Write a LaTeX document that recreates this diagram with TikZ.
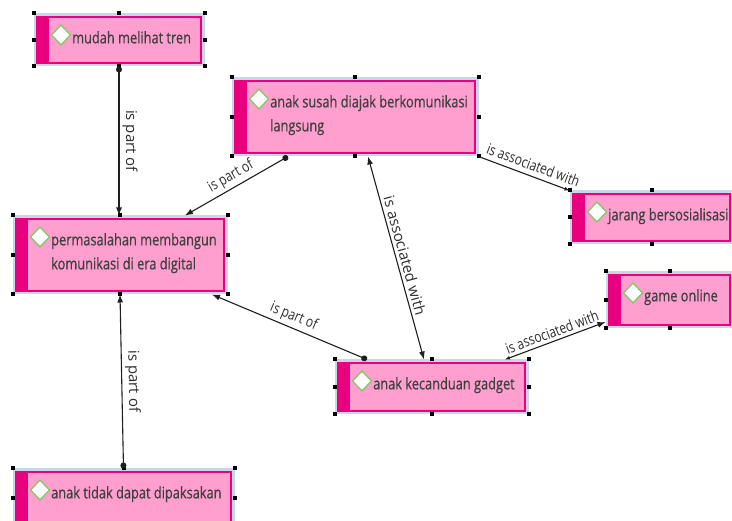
\documentclass[tikz,border=0pt]{standalone}
\usepackage{fontspec}
\setmainfont{Open Sans}[FakeStretch=0.8, FakeBold=0.6]
\newfontfamily\relfont{Open Sans}[FakeStretch=0.8]
\newfontfamily\relvfont{Open Sans}
\usetikzlibrary{arrows.meta}

\definecolor{cpink}{HTML}{FF9FD0}
\definecolor{cmag}{HTML}{E8007F}
\definecolor{cframe}{HTML}{C9D6E8}
\definecolor{cgreen}{HTML}{8CC56E}
\definecolor{ctxt}{HTML}{404040}
\definecolor{clbl}{HTML}{2E2E2E}
\definecolor{cline}{HTML}{1E1E1E}

\tikzset{
	concept/.style={rectangle, fill=cpink, draw=cmag, line width=1.2pt,
		preaction={draw=cframe, line width=7pt},
		outer sep=3.5pt, inner sep=0pt,
		path picture={
			\fill[cmag] (path picture bounding box.north west) rectangle ([xshift=12pt]path picture bounding box.south west);
			\filldraw[draw=cgreen, fill=white, line width=1.4pt] ([xshift=24pt,yshift=-18pt]path picture bounding box.north west)
				+(0,10pt) -- +(9.5pt,0) -- +(0,-10pt) -- +(-9.5pt,0) -- cycle;
		}},
	ctext/.style={anchor=north west, inner sep=0pt, xshift=38.5pt, yshift=-17.5pt,
		align=left, text=ctxt, font=\fontsize{16}{24}\selectfont},
	rel/.style={draw=cline, line width=1.1pt},
	dotarr/.style={arrows={Circle[length=6pt]-Latex[length=8pt,width=6pt]}},
	rellbl/.style={font=\relfont\fontsize{15}{17}\selectfont, text=clbl, inner sep=2pt},
	rellblv/.style={font=\relvfont\fontsize{15}{17}\selectfont, text=clbl, inner sep=2pt}
}

\newcommand{\handles}[1]{%
	\foreach \a in {north west,north,north east,east,south east,south,south west,west}
		{\fill ([shift={(-2pt,-2pt)}]#1.\a) rectangle ++(4pt,4pt);}}

\begin{document}
\begin{tikzpicture}[x=1pt,y=-1pt]
	\useasboundingbox (0,0) rectangle (732,521);

	% concepts
	\node[concept, minimum width=164pt, minimum height=46pt,
		label={[ctext]north west:mudah melihat tren}] (tren) at (119,40) {};
	\node[concept, minimum width=208pt, minimum height=72pt,
		label={[ctext]north west:{permasalahan membangun\\komunikasi di era digital}}] (masalah) at (120,255) {};
	\node[concept, minimum width=240pt, minimum height=72pt,
		label={[ctext]north west:{anak susah diajak berkomunikasi\\langsung}}] (susah) at (355,117) {};
	\node[concept, minimum width=157pt, minimum height=47pt,
		label={[ctext]north west:jarang bersosialisasi}] (jarang) at (651.5,217.5) {};
	\node[concept, minimum width=121pt, minimum height=50pt,
		label={[ctext]north west:game online}] (game) at (669.5,300) {};
	\node[concept, minimum width=187pt, minimum height=48pt,
		label={[ctext]north west:anak kecanduan gadget}] (gadget) at (431.5,387) {};
	\node[concept, minimum width=215pt, minimum height=52pt,
		label={[ctext]north west:anak tidak dapat dipaksakan}] (tidak) at (123.5,498) {};

	\foreach \n in {tren,masalah,susah,jarang,game,gadget,tidak}
		{\handles{\n}}

	% links
	\draw[rel, dotarr] (tren.south) -- (tren.south |- masalah.north)
		node[midway, sloped, above=1pt, rellblv] {is part of};
	\draw[rel, arrows={Latex[length=8pt,width=6pt]-Circle[length=6pt]}] (masalah.south) -- (tidak.north)
		node[midway, sloped, above=1pt, rellblv] {is part of};
	\draw[rel, dotarr] ([xshift=-67pt]susah.south) -- ([xshift=65pt]masalah.north)
		node[midway, sloped, above=1pt, rellbl] {is part of};
	\draw[rel, arrows={-Latex[length=5pt,width=4pt]}] (susah.south east) -- (jarang.north west)
		node[pos=0.56, sloped, above=3pt, rellbl] {is associated with};
	\draw[rel, arrows={Latex[length=8pt,width=6pt]-Latex[length=8pt,width=6pt]}] ([xshift=13pt]susah.south) -- ([xshift=-7.5pt]gadget.north)
		node[midway, sloped, above=1pt, rellblv] {is associated with};
	\draw[rel, dotarr] ([xshift=-64.5pt]gadget.north) -- ([xshift=92pt]masalah.south)
		node[midway, sloped, above=1pt, rellbl] {is part of};
	\draw[rel, arrows={Latex[length=5pt,width=4pt]-Latex[length=8pt,width=6pt]}] ([xshift=73.5pt]gadget.north) -- ([yshift=-22pt]game.west)
		node[midway, sloped, above=1pt, rellbl] {is associated with};

\end{tikzpicture}
\end{document}
